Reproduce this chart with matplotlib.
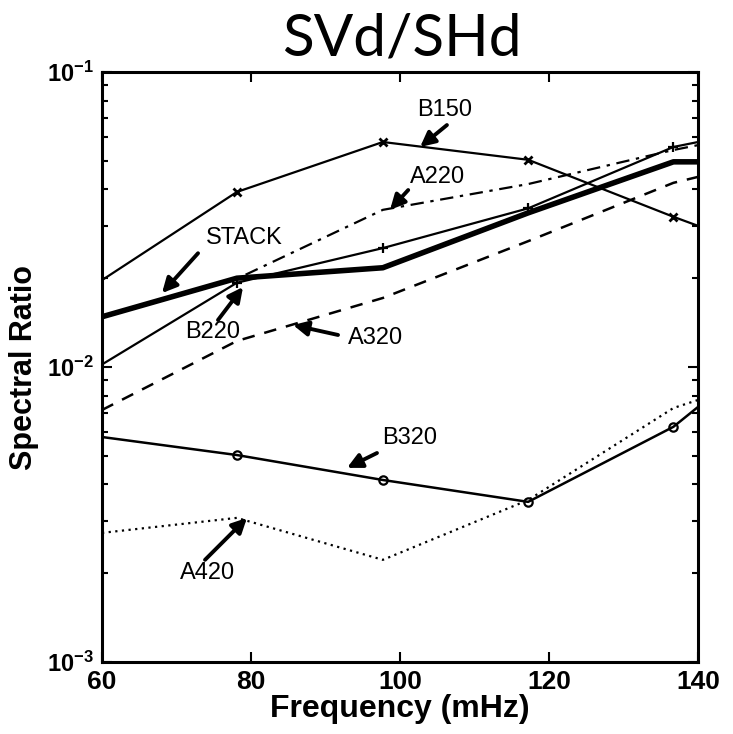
import numpy as np
import matplotlib
matplotlib.use("Agg")
import matplotlib.pyplot as plt
from matplotlib.ticker import LogLocator, FixedLocator, NullFormatter

# Frequencies (mHz) at which the ratios are sampled; ends are the plot limits
freq = [60.0, 78.1, 97.7, 117.2, 136.7, 140.0]

b150 = [0.0197, 0.0392, 0.0579, 0.0504, 0.0323, 0.0301]
stack = [0.0148, 0.0200, 0.0217, 0.0333, 0.0496, 0.0496]
b220 = [0.0102, 0.0193, 0.0253, 0.0345, 0.0557, 0.0579]
a220 = [0.0147, 0.0199, 0.0341, 0.0417, 0.0544, 0.0565]
a320 = [0.00715, 0.01225, 0.01714, 0.0267, 0.0421, 0.0441]
b320 = [0.00579, 0.00503, 0.00414, 0.00349, 0.00627, 0.00732]
a420 = [0.00274, 0.00308, 0.00222, 0.00354, 0.00726, 0.00773]

xticks = [60, 80, 100, 120, 140]
yticks = [1e-3, 1e-2, 1e-1]
yticklabels = [r"$\mathbf{10^{-3}}$", r"$\mathbf{10^{-2}}$", r"$\mathbf{10^{-1}}$"]

# label text, text position, arrow tail, arrow head (data coords)
labels = [
    ("B150", (106.0, 0.0743), (106.3, 0.0661), (102.7, 0.0557)),
    ("A220", (105.1, 0.0441), (101.1, 0.0398), (98.66, 0.0341)),
    ("STACK", (79.06, 0.0274), (72.89, 0.0243), (68.05, 0.0178)),
    ("B220", (74.9, 0.01315), (75.57, 0.01443), (78.93, 0.01867)),
    ("A320", (96.78, 0.01254), (91.68, 0.01284), (85.64, 0.01388)),
    ("B320", (101.34, 0.00574), (96.91, 0.00511), (92.89, 0.00455)),
    ("A420", (74.23, 0.00200), (73.83, 0.00222), (79.46, 0.00308)),
]

plt.rcParams["font.family"] = ["Liberation Sans", "DejaVu Sans"]
plt.rcParams["mathtext.fontset"] = "custom"
plt.rcParams["mathtext.rm"] = "Liberation Sans"
plt.rcParams["mathtext.bf"] = "Liberation Sans:bold"

fig = plt.figure(figsize=(7.33, 7.34), dpi=100)
ax = fig.add_axes([102 / 733, 1 - 662 / 734, 596 / 733, 590 / 734])

inner = [1, 2, 3, 4]
ax.plot(freq, b150, color="black", lw=1.6, marker="x", ms=6, mew=2,
        markevery=inner)
ax.plot(freq, stack, color="black", lw=4.0)
ax.plot(freq, b220, color="black", lw=1.6, marker="+", ms=7, mew=1.6,
        markevery=inner)
ax.plot(freq, a220, color="black", lw=1.6, dashes=[6, 3, 1.5, 3])
ax.plot(freq, a320, color="black", lw=1.8, dashes=[5, 4])
ax.plot(freq, b320, color="black", lw=1.8, marker="o", ms=6, mew=1.6,
        mfc="none", markevery=inner)
ax.plot(freq, a420, color="black", lw=1.6, dashes=[1, 2])

for text, tpos, tail, head in labels:
    ax.annotate("", xy=head, xytext=tail,
                arrowprops=dict(arrowstyle="-|>", color="black", lw=2.8,
                                mutation_scale=22, shrinkA=0, shrinkB=0))
    ax.text(tpos[0], tpos[1], text, fontsize=17, ha="center", va="center")

ax.set_xscale("linear")
ax.set_yscale("log")
ax.set_xlim(60, 140)
ax.set_ylim(1e-3, 1e-1)

ax.xaxis.set_major_locator(FixedLocator(xticks))
ax.set_xticklabels([str(t) for t in xticks], fontsize=19, fontweight="bold")
ax.set_yticks(yticks)
ax.set_yticklabels(yticklabels, fontsize=17)
ax.yaxis.set_minor_locator(LogLocator(base=10, subs=np.arange(2, 10)))
ax.yaxis.set_minor_formatter(NullFormatter())

ax.tick_params(which="both", direction="in", top=True, right=True,
               width=1.5)
ax.tick_params(which="major", length=7, pad=6)
ax.tick_params(which="minor", length=4)
for s in ax.spines.values():
    s.set_linewidth(2.2)

ax.set_xlabel("Frequency (mHz)", fontsize=23, fontweight="bold", labelpad=0)
ax.set_ylabel("Spectral Ratio", fontsize=22, fontweight="bold", labelpad=6)

fig.text(402 / 733, 1 - 55 / 734, "SVd/SHd", fontsize=42, ha="center",
         va="baseline", family=["Lato", "DejaVu Sans"])

fig.savefig("out.png", dpi=100)
